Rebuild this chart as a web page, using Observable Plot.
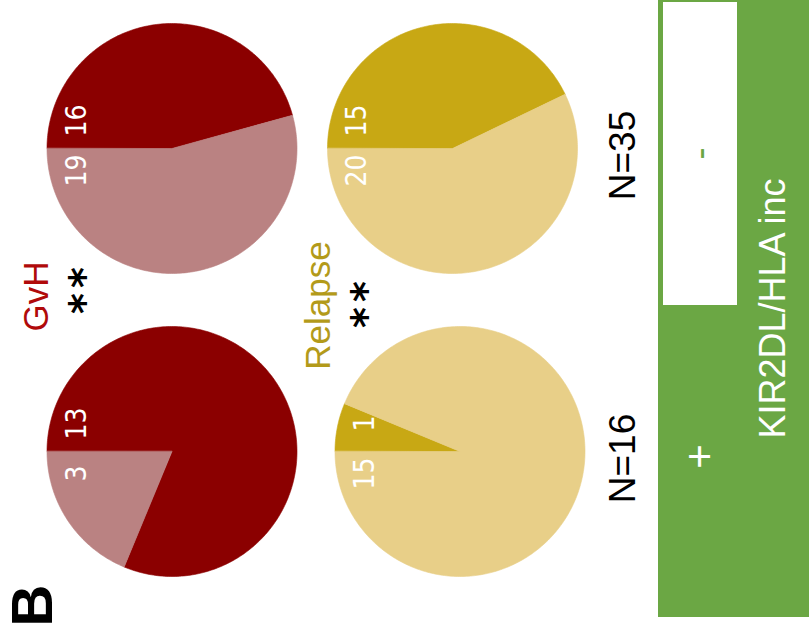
<!DOCTYPE html>
<html>
<head>
<meta charset="utf-8">
<script src="https://cdn.jsdelivr.net/npm/d3@7"></script>
<script src="https://cdn.jsdelivr.net/npm/@observablehq/plot@0.6"></script>
<style>
  html, body { margin: 0; padding: 0; background: #fff; }
  #chart svg { display: block; }
</style>
</head>
<body>
<div id="chart"></div>
<script>
// ---------- data ----------
const groups = ["-", "+"];              // KIR2DL/HLA inc
const groupN = [35, 16];
const outcomes = ["GvH", "Relapse"];
const gvhYes = [16, 13];
const gvhNo = [19, 3];
const relapseYes = [15, 1];
const relapseNo = [20, 15];
const significance = ["**", "**"];
const panelLabel = "B";
const groupAxisTitle = "KIR2DL/HLA inc";

// ---------- layout (pixel space, image orientation) ----------
const W = 809, H = 637;
const R = 125;
const rowY = [148, 451];                       // per group
const colX = [[171.5, 452], [171.5, 459.5]];  // [group][outcome]
const palette = {
  GvH: {yes: "#8b0000", no: "#ba8282", text: "#b00a0a"},
  Relapse: {yes: "#c8a814", no: "#e8cf88", text: "#b39a1a"}
};
const green = "#6ba744";

// build wedges from data
const counts = {GvH: [gvhYes, gvhNo], Relapse: [relapseYes, relapseNo]};
const wedges = [];
const labels = [];
groups.forEach((g, gi) => {
  outcomes.forEach((o, oi) => {
    const [yesArr, noArr] = counts[o];
    const yes = yesArr[gi], no = noArr[gi], tot = yes + no;
    const cx = colX[gi][oi], cy = rowY[gi];
    const parts = [["yes", yes], ["no", no]];
    let a0 = Math.PI; // start pointing left, sweep through the top
    parts.forEach(([kind, v]) => {
      const sweep = 2 * Math.PI * v / tot;
      const pts = [{x: cx, y: cy}];
      const n = Math.max(2, Math.ceil(sweep / (Math.PI / 180)));
      for (let i = 0; i <= n; i++) {
        const a = a0 - sweep * i / n;
        pts.push({x: cx + R * Math.cos(a), y: cy - R * Math.sin(a)});
      }
      wedges.push({fill: palette[o][kind], pts});
      a0 -= sweep;
    });
    labels.push({x: cx - 95, y: cy - 28, text: String(yes)});
    labels.push({x: cx - 95, y: cy + 22, text: String(no)});
  });
});

const sans = "Liberation Sans, Arial, Helvetica, sans-serif";
const numFont = "DejaVu Sans Condensed, DejaVu Sans, sans-serif";

const outcomeTitles = outcomes.map((o, oi) => ({
  text: o, x: [36, 318][oi], y: [296, 305][oi], fill: palette[o].text
}));
// significance stars, one glyph each, spaced along the (rotated) line
const sigMarks = [];
significance.forEach((s, oi) => {
  const chars = [...s];
  const mid = [290, 304][oi];
  chars.forEach((c, ci) => {
    sigMarks.push({text: c, x: [85, 367][oi], y: mid + (chars.length - 1) * 13 - ci * 26});
  });
});
const nLabels = groupN.map((n, gi) => ({text: `N=${n}`, x: 623, y: [155, 458][gi]}));
const groupTicks = groups.map((g, gi) => ({
  text: g, x: 700, y: rowY[gi] + 5, fill: gi === 0 ? green : "#ffffff", size: gi === 0 ? 36 : 42
}));

const marks = [
  // axis panel for the group
  Plot.rect([0], {x1: 658, x2: W, y1: 0, y2: 617, fill: green}),
  Plot.rect([0], {x1: 663, x2: 737, y1: 2, y2: 305, fill: "#ffffff"}),
  ...wedges.map(w => Plot.line(w.pts, {x: "x", y: "y", fill: w.fill, stroke: w.fill, strokeWidth: 0.6, curve: "linear-closed"})),
  Plot.text(labels, {x: "x", y: "y", text: "text", rotate: -90, fill: "#ffffff", fontSize: 28, fontFamily: numFont}),
  Plot.text(outcomeTitles, {x: "x", y: "y", text: "text", rotate: -90, fill: d => d.fill, fontSize: 35, fontFamily: sans}),
  Plot.text(sigMarks, {x: "x", y: "y", text: "text", rotate: -90, fill: "#000000", fontSize: 40, fontWeight: "bold", fontFamily: "DejaVu Sans, sans-serif"}),
  Plot.text(nLabels, {x: "x", y: "y", text: "text", rotate: -90, fill: "#000000", fontSize: 37, fontFamily: sans}),
  Plot.text(groupTicks.slice(0, 1), {x: "x", y: "y", text: "text", rotate: -90, fill: d => d.fill, fontSize: 36, fontFamily: sans}),
  Plot.text(groupTicks.slice(1), {x: "x", y: "y", text: "text", rotate: -90, fill: d => d.fill, fontSize: 42, fontFamily: sans}),
  Plot.text([groupAxisTitle], {x: 773, y: 308, text: d => d, rotate: -90, fill: "#ffffff", fontSize: 36, fontFamily: sans}),
  Plot.text([panelLabel], {x: 33, y: 605, text: d => d, rotate: -90, fill: "#000000", fontSize: 58, fontWeight: "bold", fontFamily: sans})
];

const chart = Plot.plot({
  width: W, height: H, margin: 0,
  x: {type: "linear", domain: [0, W], range: [0, W], axis: null},
  y: {type: "linear", domain: [0, H], range: [0, H], axis: null},
  color: {type: "identity"},
  style: {background: "#ffffff"},
  marks
});
document.getElementById("chart").appendChild(chart);
</script>
</body>
</html>
